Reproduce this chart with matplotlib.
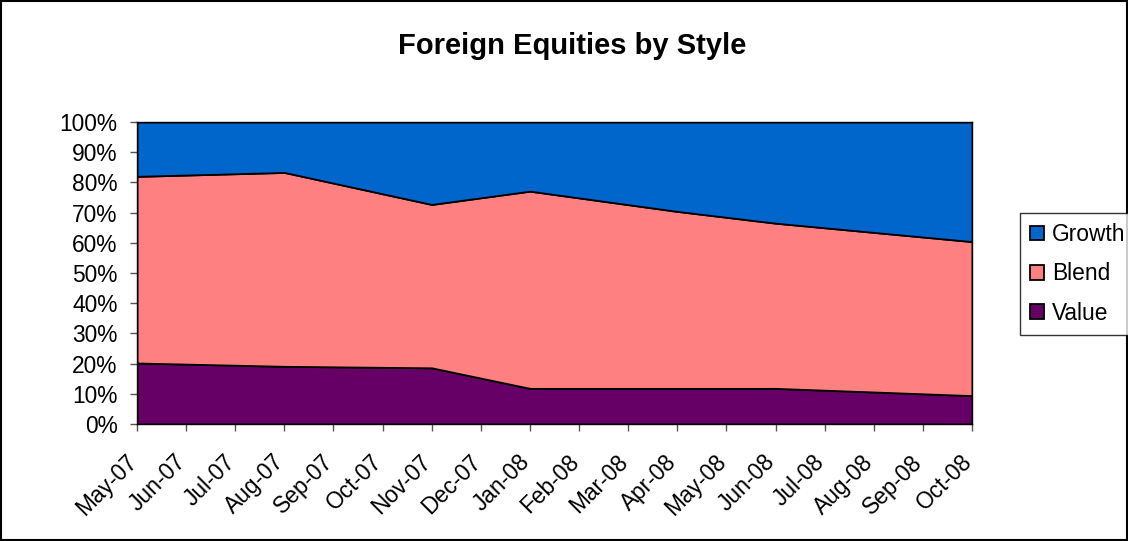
import numpy as np
import matplotlib
matplotlib.use('Agg')
import matplotlib.pyplot as plt
from matplotlib.patches import Rectangle
from matplotlib.transforms import ScaledTranslation

plt.rcParams['font.family'] = ['Liberation Sans', 'DejaVu Sans']

months = ['May-07', 'Jun-07', 'Jul-07', 'Aug-07', 'Sep-07', 'Oct-07', 'Nov-07',
          'Dec-07', 'Jan-08', 'Feb-08', 'Mar-08', 'Apr-08', 'May-08', 'Jun-08',
          'Jul-08', 'Aug-08', 'Sep-08', 'Oct-08']
# months that have a data point
obs = ['May-07', 'Aug-07', 'Nov-07', 'Jan-08', 'Apr-08', 'Jun-08', 'Oct-08']
value = [20.2, 19.1, 18.6, 11.8, 11.8, 11.8, 9.4]
blend = [61.8, 64.2, 54.1, 65.3, 58.6, 54.7, 51.0]
growth = [18.0, 16.7, 27.3, 22.9, 29.6, 33.5, 39.6]

x = [months.index(m) for m in obs]
v = np.array(value)
b = np.array(blend)
g = np.array(growth)
tot = v + b + g
v, b, g = v / tot, b / tot, g / tot

fs = 16.4
fig = plt.figure(figsize=(11.28, 5.41), dpi=100)
ax = fig.add_axes([137/1128, 1 - 424/541, (972-137)/1128, (424-122)/541])

ax.stackplot(x, v, b, g, colors=['#660066', '#FF8080', '#0066CC'],
             labels=['Value', 'Blend', 'Growth'],
             edgecolor='black', linewidth=1.3)
ax.set_xlim(0, len(months) - 1)
ax.set_ylim(0, 1)
ax.set_xticks(range(len(months)))
ax.set_xticklabels(months, rotation=45, ha='right', va='top',
                   rotation_mode='anchor', fontsize=fs)
ax.set_yticks(np.arange(0, 1.01, 0.1))
ax.set_yticklabels([f'{int(round(t*100))}%' for t in np.arange(0, 1.01, 0.1)], fontsize=fs)
ax.tick_params(direction='out', length=5, color='#555555', width=1)
ax.tick_params(axis='x', pad=14)
ax.tick_params(axis='y', pad=9)
shift = ScaledTranslation(-12/100, 0, fig.dpi_scale_trans)
for lab in ax.get_xticklabels():
    lab.set_transform(lab.get_transform() + shift)
for s in ax.spines.values():
    s.set_color('black')
    s.set_linewidth(1)

fig.text(572/1128, 1 - 54/541, 'Foreign Equities by Style', ha='center', va='baseline',
         fontsize=21, fontweight='bold')

h, l = ax.get_legend_handles_labels()
leg = fig.legend(h[::-1], l[::-1], loc='upper left', bbox_to_anchor=(1020/1128, 1 - 213/541),
                 fontsize=fs, frameon=True, fancybox=False, edgecolor='black',
                 handlelength=0.6, handleheight=0.6, handletextpad=0.35,
                 labelspacing=0.71, borderpad=0.45, borderaxespad=0)
leg.get_frame().set_linewidth(1)

fig.patches.append(Rectangle((0.001, 0.002), 0.998, 0.996, transform=fig.transFigure,
                             fill=False, edgecolor='black', linewidth=1.5))

fig.savefig('out.png', dpi=100)
